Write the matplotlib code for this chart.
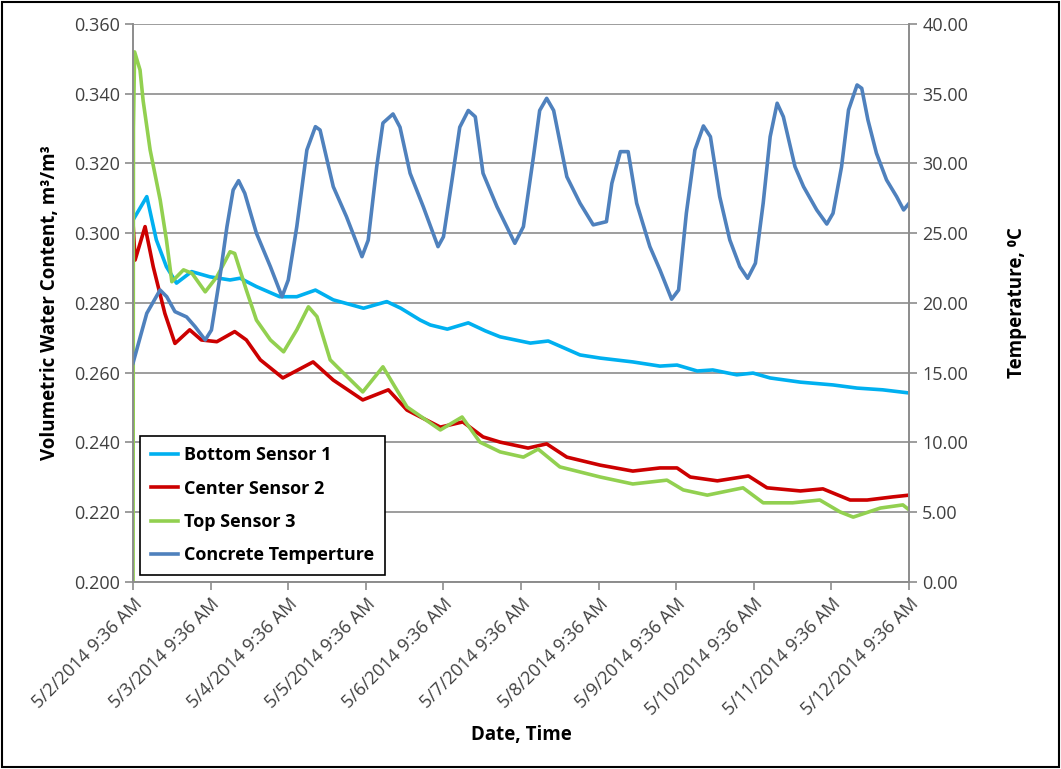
import matplotlib
matplotlib.use("Agg")
import matplotlib.pyplot as plt
from matplotlib.patches import Rectangle
from matplotlib.ticker import FormatStrFormatter

plt.rcParams['font.family'] = ['Open Sans', 'DejaVu Sans']

# x positions are days since 5/2/2014 9:36 AM
date_labels = [f"5/{d}/2014 9:36 AM" for d in range(2, 13)]

bottom_days = [0.00, 0.177, 0.30, 0.43, 0.56, 0.755, 0.99, 1.25, 1.38, 1.59, 1.89, 2.11,
               2.35, 2.58, 2.97, 3.27, 3.45, 3.70, 3.83, 4.05, 4.32, 4.54, 4.73, 5.12,
               5.35, 5.76, 6.02, 6.44, 6.79, 7.01, 7.27, 7.47, 7.78, 7.99, 8.21, 8.60,
               9.02, 9.33, 9.66, 10.0]
bottom_vwc = [0.3038, 0.3105, 0.2981, 0.2904, 0.2857, 0.2890, 0.2875, 0.2866, 0.2871,
              0.2847, 0.2818, 0.2818, 0.2837, 0.2809, 0.2785, 0.2804, 0.2785, 0.2751,
              0.2737, 0.2725, 0.2743, 0.2720, 0.2703, 0.2685, 0.2691, 0.2651, 0.2642,
              0.2631, 0.2619, 0.2622, 0.2605, 0.2608, 0.2594, 0.2599, 0.2585, 0.2573,
              0.2565, 0.2556, 0.2551, 0.2542]

center_days = [0.00, 0.026, 0.155, 0.26, 0.41, 0.54, 0.73, 0.88, 1.08, 1.31, 1.46,
               1.64, 1.93, 2.32, 2.58, 2.96, 3.29, 3.53, 3.96, 4.25, 4.51, 4.73, 5.09,
               5.33, 5.59, 6.02, 6.44, 6.79, 7.01, 7.18, 7.53, 7.93, 8.17, 8.60, 8.89,
               9.24, 9.46, 9.79, 10.0]
center_vwc = [0.3029, 0.2923, 0.3019, 0.2904, 0.2770, 0.2684, 0.2723, 0.2694, 0.2689,
              0.2718, 0.2694, 0.2637, 0.2585, 0.2631, 0.2579, 0.2522, 0.2551, 0.2493,
              0.2444, 0.2459, 0.2416, 0.2401, 0.2384, 0.2396, 0.2358, 0.2335, 0.2318,
              0.2327, 0.2327, 0.2301, 0.2290, 0.2304, 0.2270, 0.2261, 0.2267, 0.2235,
              0.2235, 0.2244, 0.2249]

top_days = [0.00, 0.005, 0.02, 0.09, 0.13, 0.22, 0.35, 0.43, 0.50, 0.65, 0.76, 0.93,
            1.08, 1.25, 1.31, 1.46, 1.59, 1.77, 1.94, 2.11, 2.26, 2.37, 2.54, 2.63,
            2.96, 3.22, 3.53, 3.96, 4.24, 4.47, 4.73, 5.03, 5.22, 5.50, 6.02, 6.44,
            6.88, 7.09, 7.40, 7.86, 8.12, 8.50, 8.85, 9.11, 9.28, 9.63, 9.92, 10.0]
top_vwc = [0.2000, 0.3300, 0.3520, 0.3468, 0.3380, 0.3239, 0.3095, 0.2981, 0.2861,
           0.2895, 0.2885, 0.2832, 0.2875, 0.2947, 0.2942, 0.2837, 0.2751, 0.2694,
           0.2660, 0.2723, 0.2789, 0.2761, 0.2637, 0.2617, 0.2545, 0.2617, 0.2502,
           0.2436, 0.2473, 0.2401, 0.2373, 0.2358, 0.2381, 0.2330, 0.2301, 0.2281,
           0.2292, 0.2264, 0.2249, 0.2270, 0.2227, 0.2227, 0.2235, 0.2201, 0.2186,
           0.2212, 0.2221, 0.2207]

temp_days = [0.00, 0.177, 0.348, 0.434, 0.54, 0.69, 0.80, 0.93, 1.01, 1.12, 1.21, 1.29,
             1.36, 1.44, 1.59, 1.77, 1.92, 2.00, 2.11, 2.24, 2.35, 2.41, 2.58, 2.75,
             2.95, 3.03, 3.14, 3.22, 3.35, 3.44, 3.57, 3.74, 3.93, 4.00, 4.11, 4.21,
             4.32, 4.41, 4.51, 4.69, 4.92, 5.03, 5.16, 5.24, 5.33, 5.42, 5.59, 5.76,
             5.93, 6.10, 6.17, 6.28, 6.38, 6.49, 6.66, 6.79, 6.94, 7.03, 7.13, 7.24,
             7.35, 7.44, 7.56, 7.69, 7.82, 7.92, 8.02, 8.12, 8.21, 8.30, 8.38, 8.53,
             8.64, 8.81, 8.94, 9.02, 9.13, 9.22, 9.33, 9.39, 9.47, 9.58, 9.71, 9.84,
             9.93, 10.0]
temp_c = [15.7, 19.26, 20.93, 20.45, 19.38, 19.0, 18.3, 17.35, 18.06, 21.9, 25.47, 28.1,
          28.77, 27.86, 25.0, 22.6, 20.45, 21.65, 25.47, 30.97, 32.64, 32.4, 28.34, 26.19,
          23.32, 24.5, 29.77, 32.9, 33.55, 32.6, 29.3, 26.9, 24.04, 24.75, 28.8, 32.6,
          33.8, 33.35, 29.3, 26.9, 24.28, 25.47, 30.5, 33.8, 34.67, 33.8, 29.05, 27.15,
          25.6, 25.83, 28.58, 30.85, 30.85, 27.15, 24.04, 22.37, 20.27, 20.93, 26.43, 30.97,
          32.69, 31.92, 27.62, 24.52, 22.6, 21.77, 22.85, 27.15, 31.92, 34.32, 33.35, 29.77,
          28.34, 26.67, 25.66, 26.43, 29.77, 33.84, 35.63, 35.39, 33.12, 30.73, 28.82, 27.62,
          26.67, 27.15]

fig = plt.figure(figsize=(10.61, 7.69), dpi=100)
ax = fig.add_axes([0.1254, 0.2432, 0.7314, 0.7256])
ax2 = ax.twinx()

lw = 2.6
l1, = ax.plot(bottom_days, bottom_vwc, color='#00B0F0', lw=lw, label='Bottom Sensor 1')
l2, = ax.plot(center_days, center_vwc, color='#CC0000', lw=lw, label='Center Sensor 2')
l3, = ax.plot(top_days, top_vwc, color='#92D050', lw=lw, label='Top Sensor 3')
l4, = ax2.plot(temp_days, temp_c, color='#4F81BD', lw=lw, label='Concrete Temperture')
for ln in (l1, l2, l3, l4):
    ln.set_solid_joinstyle('round')

ax.set_xlim(0, 10)
ax.set_ylim(0.2, 0.36)
ax2.set_ylim(0, 40)
ax.set_yticks([0.2 + 0.02 * i for i in range(9)])
ax2.set_yticks(range(0, 41, 5))
ax.yaxis.set_major_formatter(FormatStrFormatter('%.3f'))
ax2.yaxis.set_major_formatter(FormatStrFormatter('%.2f'))
ax.set_xticks(range(11))
ax.set_xticklabels(date_labels, rotation=45, ha='right', rotation_mode='anchor')

ax.grid(axis='y', color='#8C8C8C', lw=1.2)
ax.set_axisbelow(True)
for a in (ax, ax2):
    for s in a.spines.values():
        s.set_color('#8C8C8C')
        s.set_linewidth(1.2)
    a.spines['top'].set_visible(False)
    a.tick_params(colors='#8C8C8C', labelcolor='#404040', labelsize=13, length=6, width=1.2)

ax.set_ylabel('Volumetric Water Content, m³/m³', fontsize=13.5, fontweight='bold', labelpad=10)
ax2.set_ylabel('Temperature, ⁰C', fontsize=13.5, fontweight='bold', labelpad=28)
ax.set_xlabel('Date, Time', fontsize=13.5, fontweight='bold', labelpad=4)

leg = ax2.legend(handles=[l1, l2, l3, l4], loc='lower left', bbox_to_anchor=(0.009, 0.012),
                 frameon=True, fancybox=False, edgecolor='black', framealpha=1,
                 prop={'weight': 'bold', 'size': 13}, handlelength=1.5, labelspacing=0.85,
                 borderpad=0.6, handletextpad=0.35, borderaxespad=0)
leg.get_frame().set_linewidth(1.2)

fig.patches.append(Rectangle((0.002, 0.002), 0.996, 0.996, transform=fig.transFigure,
                             fill=False, edgecolor='black', lw=1.5))

fig.savefig('out.png', dpi=100)
